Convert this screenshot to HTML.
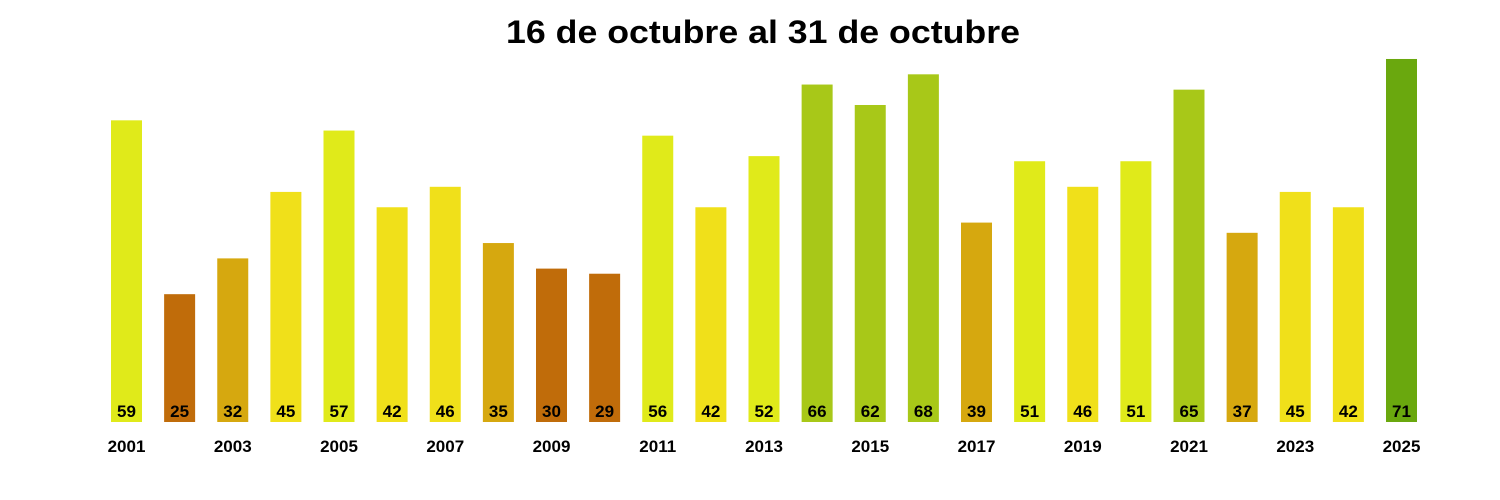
<!DOCTYPE html>
<html><head><meta charset="utf-8"><style>
body{margin:0;background:#fff;}
svg{display:block;font-family:"Liberation Sans",Arial,sans-serif;font-weight:bold;}
</style></head><body>
<svg width="1500" height="500" xmlns="http://www.w3.org/2000/svg">
<text x="763" y="43" text-anchor="middle" font-size="32" textLength="514" lengthAdjust="spacingAndGlyphs">16 de octubre al 31 de octubre</text>
<g id="bars"></g>
</svg>
<script>
var v=[59,25,32,45,57,42,46,35,30,29,56,42,52,66,62,68,39,51,46,51,65,37,45,42,71];
function col(x){if(x>=70)return"#6aa80e";if(x>=60)return"#a8c818";if(x>=50)return"#e0ea1a";if(x>=40)return"#f0e01a";if(x>=31)return"#d6a80f";return"#c06c0a";}
var g=document.getElementById("bars"),s="";
for(var i=0;i<25;i++){var cx=126.5+i*53.125,h=v[i]*5.113,y=422-h;
s+='<rect x="'+(cx-15.5)+'" y="'+y+'" width="31" height="'+h+'" fill="'+col(v[i])+'"/>';
s+='<text x="'+cx+'" y="417" text-anchor="middle" font-size="17">'+v[i]+'</text>';
if(i%2==0)s+='<text x="'+cx+'" y="452" text-anchor="middle" font-size="17">'+(2001+i)+'</text>';}
g.innerHTML=s;
</script>
</body></html>
